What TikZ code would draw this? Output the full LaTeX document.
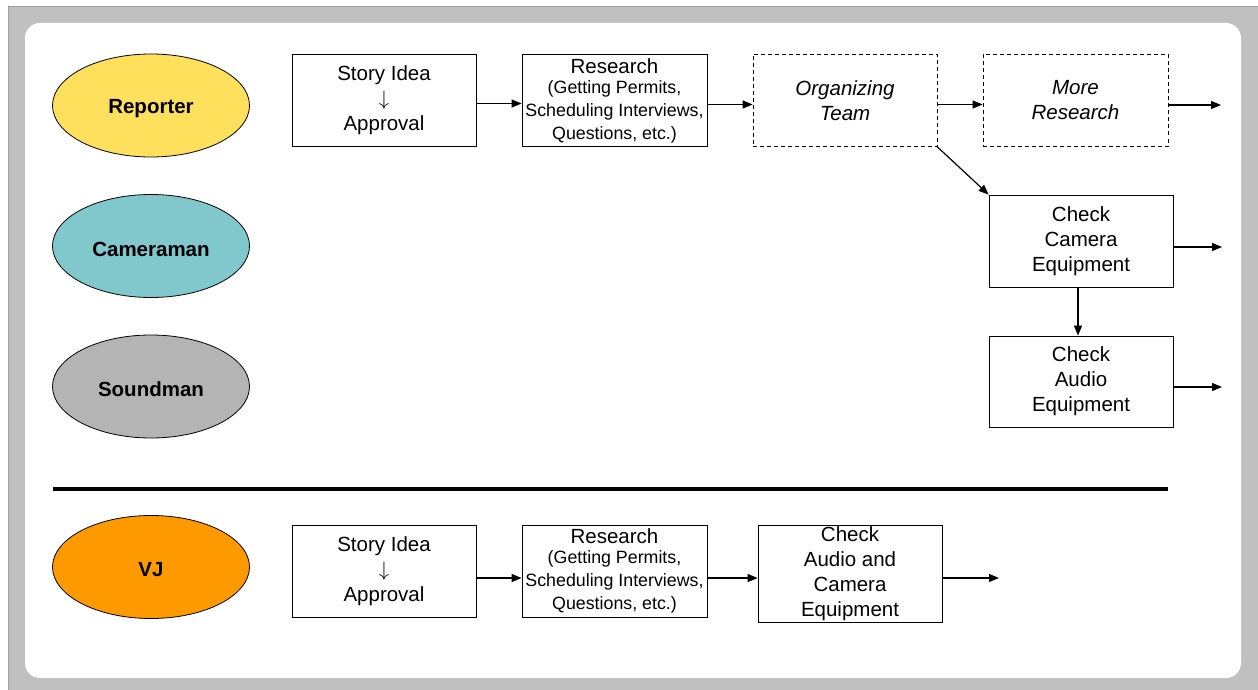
\documentclass[tikz,border=0pt]{standalone}
\usepackage{fontspec}
\setmainfont{Liberation Sans}
\usetikzlibrary{shapes.geometric,arrows.meta}
\definecolor{frameGray}{HTML}{C0C0C0}
\definecolor{frameLine}{HTML}{A0A0A0}
\definecolor{repYellow}{HTML}{FFE05C}
\definecolor{camTeal}{HTML}{80C8CC}
\definecolor{sndGray}{HTML}{B4B4B4}
\definecolor{vjOrange}{HTML}{FF9900}
\newcommand{\mainsize}{\fontsize{20.5}{25}\selectfont}
\newcommand{\subsize}{\fontsize{17.8}{23}\selectfont}
\newcommand{\rolename}[1]{\raisebox{-3pt}[\height][\depth]{#1}}
\tikzset{
  role/.style={ellipse, draw=black, line width=0.8pt, minimum width=197pt, minimum height=103pt,
               inner sep=0pt, font=\mainsize\bfseries},
  stepbox/.style={draw=black, line width=0.8pt, minimum width=184pt, minimum height=92pt,
                  inner sep=0pt, align=center, font=\mainsize},
  resbox/.style={stepbox, minimum width=185pt, font=\subsize},
  dashbox/.style={stepbox, dash pattern=on 4pt off 3pt, font=\mainsize\itshape},
  flow/.style={line width=1.2pt, -{Triangle[length=10pt,width=8pt]}},
}
\begin{document}
\begin{tikzpicture}[x=1pt,y=-1pt]
  \useasboundingbox (0,0) rectangle (1258,690);
  % frame and rounded panel
  \fill[white] (0,0) rectangle (1258,690);
  \filldraw[fill=frameGray, draw=frameLine, line width=1pt] (8,7) rectangle (1262,694);
  \fill[white, rounded corners=15pt] (25,23) rectangle (1241,678);

  % roles
  \node[role, fill=repYellow] (rep) at (151,105.5) {\rolename{Reporter}};
  \node[role, fill=camTeal]   (cmr) at (151,246)   {\rolename{Cameraman}};
  \node[role, fill=sndGray]   (snd) at (151,386.5) {\rolename{Soundman}};
  \node[role, fill=vjOrange]  (vj)  at (151,567)   {\rolename{VJ}};

  % team workflow
  \node[stepbox] (idea1) at (384,100.5) {Story Idea\\$\downarrow$\\Approval};
  \node[resbox] (res1) at (614.5,100.5)
     {{\mainsize Research}\\[-3pt](Getting Permits,\\Scheduling Interviews,\\Questions, etc.)};
  \node[dashbox] (org) at (845,100.5) {Organizing\\Team};
  \node[dashbox, minimum width=185pt] (more) at (1075.5,100.5) {More\\Research};
  \node[stepbox] (cam) at (1081,241) {Check\\Camera\\Equipment};
  \node[stepbox, minimum height=91pt] (aud) at (1081,381.5) {Check\\Audio\\Equipment};

  \coordinate (moreOut) at (1221,105);
  \coordinate (camOut) at (1222,247);
  \coordinate (audOut) at (1222,387);

  \draw[flow] ([yshift=-3pt]idea1.east) -- ([yshift=-3pt]res1.west);
  \draw[flow] ([yshift=-4pt]res1.east) -- ([yshift=-4pt]org.west);
  \draw[flow] ([yshift=-4pt]org.east) -- ([yshift=-4pt]more.west);
  \draw[flow] (more.east |- moreOut) -- (moreOut);
  \draw[flow] (org.south east) -- (cam.north west);
  \draw[flow] (cam.east |- camOut) -- (camOut);
  \draw[flow] ([xshift=-3pt]cam.south) -- ([xshift=-3pt]aud.north);
  \draw[flow] (aud.east |- audOut) -- (audOut);

  % divider
  \coordinate (divL) at (53,489);
  \coordinate (divR) at (1168,489);
  \draw[line width=4pt] (divL) -- (divR);

  % VJ workflow
  \node[stepbox] (idea2) at (384,571) {Story Idea\\$\downarrow$\\Approval};
  \node[resbox] (res2) at (614.5,571)
     {{\mainsize Research}\\[-3pt](Getting Permits,\\Scheduling Interviews,\\Questions, etc.)};
  \node[stepbox, minimum height=97pt] (chk2) at (850,573.5) {Check\\Audio and\\Camera\\Equipment};
  \coordinate (chkOut) at (999,578);

  \draw[flow] (idea2.east |- chkOut) -- (res2.west |- chkOut);
  \draw[flow] (res2.east |- chkOut) -- (chk2.west |- chkOut);
  \draw[flow] (chk2.east |- chkOut) -- (chkOut);
\end{tikzpicture}
\end{document}
